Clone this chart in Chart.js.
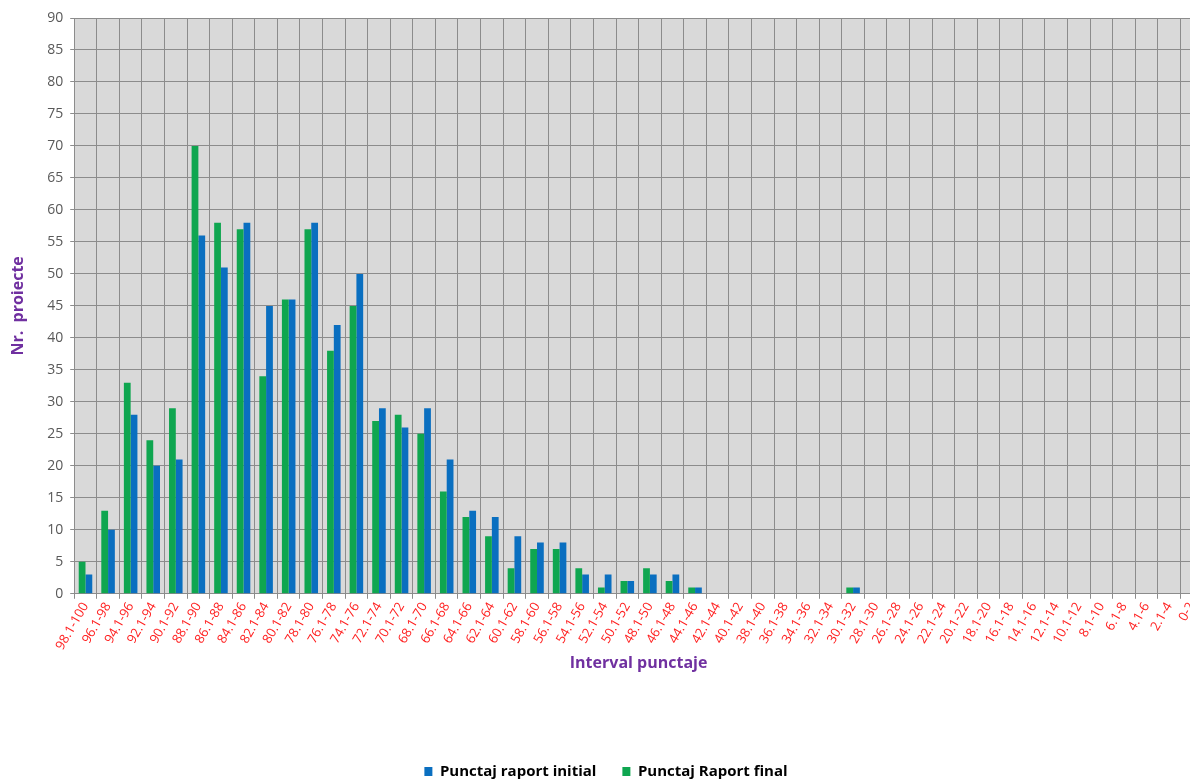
<!DOCTYPE html>
<html>
<head>
<meta charset="utf-8">
<script src="https://cdn.jsdelivr.net/npm/chart.js@4"></script>
<style>
  html, body { margin: 0; padding: 0; background: #fff; overflow: hidden; }
  #wrap { position: absolute; left: 0; top: 0; width: 1235px; height: 783px; }
</style>
</head>
<body>
<div id="wrap"><canvas id="chart" width="1235" height="783"></canvas></div>
<script>
// Intervale de punctaj (axa X)
const categories = [
    '98.1-100', '96.1-98', '94.1-96', '92.1-94', '90.1-92', '88.1-90', '86.1-88', '84.1-86',
    '82.1-84', '80.1-82', '78.1-80', '76.1-78', '74.1-76', '72.1-74', '70.1-72', '68.1-70',
    '66.1-68', '64.1-66', '62.1-64', '60.1-62', '58.1-60', '56.1-58', '54.1-56', '52.1-54',
    '50.1-52', '48.1-50', '46.1-48', '44.1-46', '42.1-44', '40.1-42', '38.1-40', '36.1-38',
    '34.1-36', '32.1-34', '30.1-32', '28.1-30', '26.1-28', '24.1-26', '22.1-24', '20.1-22',
    '18.1-20', '16.1-18', '14.1-16', '12.1-14', '10.1-12', '8.1-10', '6.1-8', '4.1-6',
    '2.1-4', '0-2'
];

// Punctaj raport initial (albastru)
const initialValues = [
    3, 10, 28, 20, 21, 56, 51, 58, 45, 46, 58, 42, 50, 29, 26, 29,
    21, 13, 12, 9, 8, 8, 3, 3, 2, 3, 3, 1, 0, 0, 0, 0,
    0, 0, 1, 0, 0, 0, 0, 0, 0, 0, 0, 0, 0, 0, 0, 0,
    0, 0
];

// Punctaj raport final (verde)
const finalValues = [
    5, 13, 33, 24, 29, 70, 58, 57, 34, 46, 57, 38, 45, 27, 28, 25,
    16, 12, 9, 4, 7, 7, 4, 1, 2, 4, 2, 1, 0, 0, 0, 0,
    0, 0, 1, 0, 0, 0, 0, 0, 0, 0, 0, 0, 0, 0, 0, 0,
    0, 0
];

const yMax = 90;
const yStep = 5;

// fundal gri pentru zona graficului
const plotBackground = {
    id: 'plotBackground',
    beforeDraw(chart) {
        const { ctx, chartArea } = chart;
        ctx.save();
        ctx.fillStyle = '#d9d9d9';
        ctx.fillRect(chartArea.left, chartArea.top, chartArea.right - chartArea.left, chartArea.bottom - chartArea.top);
        ctx.restore();
    }
};

const FONT = '"Open Sans", Lato, sans-serif';

const ctx = document.getElementById('chart').getContext('2d');
const chart = new Chart(ctx, {
    type: 'bar',
    data: {
        labels: categories,
        datasets: [
            {
                label: 'Punctaj Raport final',
                data: finalValues,
                backgroundColor: '#0fa650',
                borderWidth: 0,
                barPercentage: 1,
                categoryPercentage: 0.6,
            },
            {
                label: 'Punctaj raport initial',
                data: initialValues,
                backgroundColor: '#0a6fc0',
                borderWidth: 0,
                barPercentage: 1,
                categoryPercentage: 0.6,
            }
        ]
    },
    options: {
        responsive: false,
        animation: false,
        devicePixelRatio: 1,
        layout: { padding: { top: 18, right: 32, left: 9, bottom: -6 } },
        plugins: {
            tooltip: { enabled: false },
            legend: {
                position: 'bottom',
                reverse: true,
                labels: {
                    boxWidth: 8,
                    boxHeight: 9,
                    padding: 26,
                    color: '#000',
                    font: { family: FONT, size: 15, weight: 'bold' }
                }
            }
        },
        scales: {
            x: {
                grid: { color: '#8c8c8c', lineWidth: 1, tickLength: 5, offset: true },
                border: { color: '#8c8c8c' },
                ticks: {
                    color: '#ff2020',
                    minRotation: 60,
                    maxRotation: 60,
                    autoSkip: false,
                    padding: 1,
                    font: { family: FONT, size: 13 }
                },
                title: {
                    display: true,
                    text: 'Interval punctaje',
                    color: '#7030a0',
                    padding: { top: 0, bottom: 65 },
                    font: { family: FONT, size: 16, weight: 'bold' }
                }
            },
            y: {
                min: 0,
                max: yMax,
                grid: { color: '#8c8c8c', lineWidth: 1, tickLength: 4 },
                border: { color: '#8c8c8c' },
                ticks: {
                    stepSize: yStep,
                    color: '#595959',
                    padding: 7,
                    font: { family: FONT, size: 14 }
                },
                title: {
                    display: true,
                    text: 'Nr.  proiecte',
                    color: '#7030a0',
                    padding: { top: 0, bottom: 12 },
                    font: { family: FONT, size: 16, weight: 'bold' }
                }
            }
        }
    },
    plugins: [plotBackground]
});
</script>
</body>
</html>
